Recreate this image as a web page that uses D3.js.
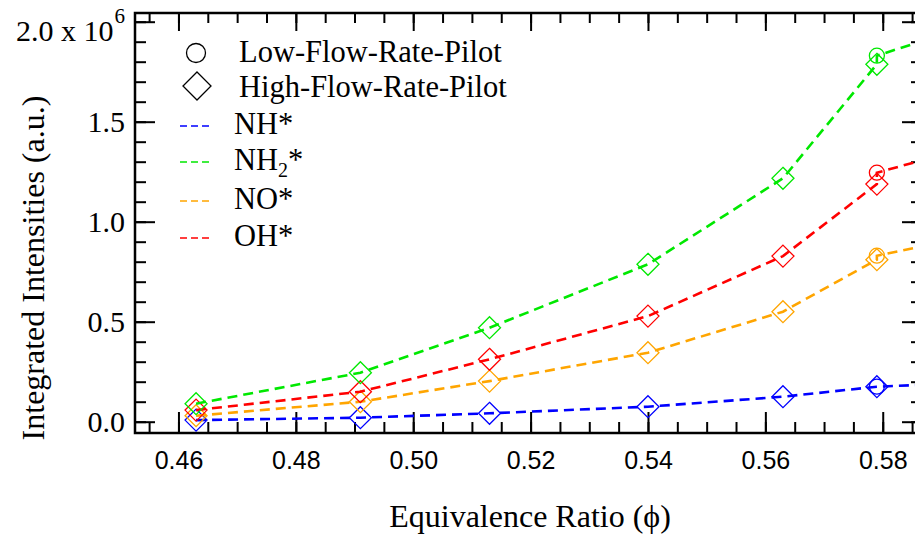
<!DOCTYPE html>
<html>
<head>
<meta charset="utf-8">
<script src="https://cdn.jsdelivr.net/npm/d3@7"></script>
<style>
  body { margin: 0; background: #fff; }
  svg { display: block; }
  .serif { font-family: "Liberation Serif", "Times New Roman", serif; }
  .sans { font-family: "Liberation Sans", Arial, sans-serif; }
</style>
</head>
<body>
<svg id="chart" width="915" height="537"></svg>
<script>
// equivalence ratio of the measured points
const phiHigh = [0.463, 0.491, 0.513, 0.540, 0.563, 0.579];
const phiLow = [0.579, 0.600];

// integrated intensities, x 10^6 a.u.
const nhHigh = [0.008, 0.020, 0.042, 0.075, 0.125, 0.175];
const nhLow = [0.175, 0.200];
const nh2High = [0.090, 0.245, 0.470, 0.787, 1.217, 1.787];
const nh2Low = [1.830, 2.030];
const noHigh = [0.030, 0.100, 0.203, 0.345, 0.550, 0.810];
const noLow = [0.830, 0.956];
const ohHigh = [0.058, 0.150, 0.312, 0.528, 0.828, 1.188];
const ohLow = [1.245, 1.415];

const xTicks = [0.46, 0.48, 0.50, 0.52, 0.54, 0.56, 0.58];
const yTicks = [0.0, 0.5, 1.0, 1.5, 2.0];

const series = [
    { name: "NH", color: "#0000ff", high: nhHigh, low: nhLow },
    { name: "NH2", color: "#00e800", high: nh2High, low: nh2Low },
    { name: "NO", color: "#ffa500", high: noHigh, low: noLow },
    { name: "OH", color: "#ff0000", high: ohHigh, low: ohLow }
];
// drawing order, back to front
const drawOrder = ["NH", "NO", "OH", "NH2"];

const margin = { top: 13, left: 135, bottom: 104, right: -7 };
const W = 915, H = 537;
const width = W - margin.left - margin.right;
const height = H - margin.top - margin.bottom;

const svg = d3.select("#chart");
const g = svg.append("g").attr("transform", `translate(${margin.left},${margin.top})`);

const x = d3.scaleLinear().domain([0.452596, 0.58669]).range([0, width]);
const y = d3.scaleLinear().domain([-0.0565, 2.0435]).range([height, 0]);

const minorX = d3.range(0.455, 0.5866, 0.005);
const minorY = d3.range(-0.0, 2.04, 0.1);

function styleAxis(sel) {
    sel.select(".domain").remove();
    sel.selectAll(".tick line").attr("stroke", "#000").attr("stroke-width", 2);
}

// bottom axis
g.append("g")
    .attr("transform", `translate(0,${height})`)
    .call(d3.axisBottom(x).tickValues(minorX).tickSize(-11).tickFormat(""))
    .call(styleAxis);
g.append("g")
    .attr("transform", `translate(0,${height})`)
    .call(d3.axisBottom(x).tickValues(xTicks).tickSize(-21).tickPadding(18).tickFormat(d3.format(".2f")))
    .call(styleAxis)
    .selectAll("text")
    .attr("class", "sans")
    .attr("font-size", 25)
    .attr("fill", "#000");

// top axis
g.append("g")
    .call(d3.axisTop(x).tickValues(minorX).tickSize(-10).tickFormat(""))
    .call(styleAxis);
g.append("g")
    .call(d3.axisTop(x).tickValues(xTicks).tickSize(-18).tickFormat(""))
    .call(styleAxis);

// left axis
g.append("g")
    .call(d3.axisLeft(y).tickValues(minorY).tickSize(-11).tickFormat(""))
    .call(styleAxis);
const yAxis = g.append("g")
    .call(d3.axisLeft(y).tickValues(yTicks).tickSize(-20).tickPadding(10).tickFormat(d3.format(".1f")))
    .call(styleAxis);
yAxis.selectAll("text")
    .attr("class", "serif")
    .attr("font-size", 30)
    .attr("fill", "#000")
    .attr("dy", "0.34em");
yAxis.selectAll(".tick text")
    .filter(d => d === 2.0)
    .attr("dy", null)
    .attr("y", 19)
    .text(null)
    .call(t => {
        t.append("tspan").text("2.0 x 10");
        t.append("tspan").attr("font-size", 21).attr("dx", 1).attr("dy", -18).text("6");
    });

// right axis
g.append("g")
    .attr("transform", `translate(${width},0)`)
    .call(d3.axisRight(y).tickValues(minorY).tickSize(-11).tickFormat(""))
    .call(styleAxis);
g.append("g")
    .attr("transform", `translate(${width},0)`)
    .call(d3.axisRight(y).tickValues(yTicks).tickSize(-20).tickFormat(""))
    .call(styleAxis);

// frame
g.append("rect")
    .attr("width", width)
    .attr("height", height)
    .attr("fill", "none")
    .attr("stroke", "#000")
    .attr("stroke-width", 2.5);

// data
g.append("clipPath").attr("id", "plotClip")
    .append("rect").attr("width", width).attr("height", height);
const plot = g.append("g").attr("clip-path", "url(#plotClip)");

const line = d3.line().x(d => x(d[0])).y(d => y(d[1]));
const diamond = r => `M0,${-r}L${r},0L0,${r}L${-r},0Z`;

drawOrder.forEach(name => {
    const s = series.find(d => d.name === name);
    const hi = phiHigh.map((p, i) => [p, s.high[i]]);
    const lo = phiLow.map((p, i) => [p, s.low[i]]);
    const pts = hi.concat(lo);

    plot.append("path")
        .datum(pts)
        .attr("d", line)
        .attr("fill", "none")
        .attr("stroke", s.color)
        .attr("stroke-width", 2.6)
        .attr("stroke-dasharray", "10,6");

    plot.selectAll(null)
        .data(hi)
        .join("path")
        .attr("transform", d => `translate(${x(d[0])},${y(d[1])})`)
        .attr("d", diamond(11))
        .attr("fill", "none")
        .attr("stroke", s.color)
        .attr("stroke-width", 1.3);

    plot.selectAll(null)
        .data(lo)
        .join("circle")
        .attr("cx", d => x(d[0]))
        .attr("cy", d => y(d[1]))
        .attr("r", 7.5)
        .attr("fill", "none")
        .attr("stroke", s.color)
        .attr("stroke-width", 1.3);
});

// legend
const leg = svg.append("g").attr("class", "serif").attr("font-size", 30.5);
leg.append("circle").attr("cx", 196).attr("cy", 53).attr("r", 9.5)
    .attr("fill", "none").attr("stroke", "#000").attr("stroke-width", 1.3);
leg.append("text").attr("x", 239).attr("y", 62).text("Low-Flow-Rate-Pilot");
leg.append("path").attr("transform", "translate(197,86)").attr("d", diamond(14))
    .attr("fill", "none").attr("stroke", "#000").attr("stroke-width", 1.3);
leg.append("text").attr("x", 239).attr("y", 97).text("High-Flow-Rate-Pilot");

const legY = [126, 162, 201, 238];
series.forEach((s, i) => {
    leg.append("line")
        .attr("x1", 180).attr("x2", 209)
        .attr("y1", legY[i]).attr("y2", legY[i])
        .attr("stroke", s.color)
        .attr("stroke-width", 1.6)
        .attr("stroke-dasharray", "7,4");
    const t = leg.append("text").attr("x", 234).attr("y", legY[i] + 8);
    if (s.name === "NH2") {
        t.append("tspan").text("NH");
        t.append("tspan").attr("font-size", 20).attr("dy", 7).text("2");
        t.append("tspan").attr("dy", -7).text("*");
    } else {
        t.text(s.name + "*");
    }
});

// axis titles
svg.append("text")
    .attr("class", "serif")
    .attr("font-size", 32)
    .attr("text-anchor", "middle")
    .attr("x", 530)
    .attr("y", 527)
    .text("Equivalence Ratio (\u03d5)");

svg.append("text")
    .attr("class", "serif")
    .attr("font-size", 32)
    .attr("text-anchor", "middle")
    .attr("transform", "translate(44,268) rotate(-90)")
    .text("Integrated Intensities (a.u.)");
</script>
</body>
</html>
